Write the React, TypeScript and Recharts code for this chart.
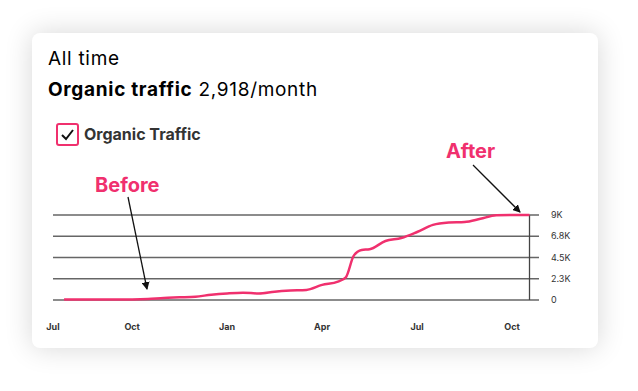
import { LineChart, XAxis, YAxis, Line, ReferenceLine } from "recharts";

// months counted from the first Jul (0 = Jul 1)
const monthPos = [0.85, 1.5, 2, 2.5, 3, 3.5, 4, 4.5, 5, 5.5, 6, 6.5, 7, 7.5, 8, 8.5, 9, 9.5, 9.75, 10, 10.25, 10.5, 11, 11.5, 12, 12.5, 13, 13.5, 14, 14.5, 15, 15.55];
const traffic = [40, 40, 40, 40, 50, 100, 220, 280, 350, 560, 700, 780, 680, 880, 1000, 1070, 1600, 1950, 2400, 4700, 5300, 5370, 6250, 6560, 7200, 7950, 8200, 8260, 8600, 8970, 9000, 9000];
const xTicks = [0.5, 3, 6, 9, 12, 15];
const xTickLabels = ["Jul", "Oct", "Jan", "Apr", "Jul", "Oct"];
const yTicks = [0, 2250, 4500, 6750, 9000];

const PINK = "#f0306e";
const FONT = "Inter, 'Noto Sans', sans-serif";

const data = monthPos.map((m, i) => ({ m, v: traffic[i] }));

const fmtY = (v: number) => (v === 0 ? "0" : (v / 1000).toFixed(1).replace(/\.0$/, "") + "K");
const fmtX = (v: number) => xTickLabels[xTicks.indexOf(v)] ?? "";

export default function App() {
  return (
    <div style={{ position: "absolute", left: 0, top: 0, width: 638, height: 391, background: "#fff", fontFamily: FONT }}>
      <div
        style={{
          position: "absolute",
          left: 32,
          top: 33,
          width: 566,
          height: 315,
          borderRadius: 8,
          background: "#fff",
          boxShadow: "0 0 28px rgba(0,0,0,0.16)",
        }}
      />
      <div style={{ position: "absolute", left: 48, top: 47, fontSize: 19, letterSpacing: 0.7, color: "#000" }}>
        All time
      </div>
      <div style={{ position: "absolute", left: 48, top: 78, fontSize: 19, letterSpacing: 0.7, color: "#000" }}>
        <b>Organic traffic</b> 2,918/month
      </div>
      <div
        style={{
          position: "absolute",
          left: 56,
          top: 123,
          width: 19,
          height: 19,
          border: `2px solid ${PINK}`,
          borderRadius: 3,
        }}
      >
        <svg width={19} height={19}>
          <path d="M4 10 L8 14 L15 5" fill="none" stroke="#111" strokeWidth={2} />
        </svg>
      </div>
      <div style={{ position: "absolute", left: 84, top: 124, fontSize: 16, fontWeight: 700, color: "#333" }}>
        Organic Traffic
      </div>

      <div style={{ position: "absolute", left: 0, top: 0 }}>
        <LineChart width={638} height={391} data={data} margin={{ top: 215, right: 59, left: 53, bottom: 61 }}>
          <XAxis
            dataKey="m"
            type="number"
            domain={[0.5, 15.85]}
            ticks={xTicks}
            interval={0}
            tickFormatter={fmtX}
            axisLine={false}
            tickLine={false}
            tickMargin={18}
            height={30}
            tick={{ fontSize: 9, fontWeight: 700, fill: "#333", fontFamily: FONT }}
          />
          <YAxis
            orientation="right"
            domain={[0, 9000]}
            ticks={yTicks}
            interval={0}
            tickFormatter={fmtY}
            axisLine={false}
            tickLine={false}
            tickMargin={6}
            width={40}
            tick={{ fontSize: 9, fill: "#333", fontFamily: FONT }}
          />
          {yTicks.map((t) => (
            <ReferenceLine key={t} y={t} stroke="#666" strokeWidth={1.3} />
          ))}
          <ReferenceLine x={15.55} stroke="#444" strokeWidth={1.3} />
          <Line
            type="monotone"
            dataKey="v"
            stroke={PINK}
            strokeWidth={2.5}
            dot={false}
            isAnimationActive={false}
          />
        </LineChart>
      </div>

      <svg width={638} height={391} style={{ position: "absolute", left: 0, top: 0, pointerEvents: "none" }}>
        <defs>
          <marker id="ah" markerWidth={8} markerHeight={8} refX={7} refY={4} orient="auto" markerUnits="userSpaceOnUse">
            <path d="M0,0 L8,4 L0,8 z" fill="#111" />
          </marker>
        </defs>
        <text x={95} y={192} fontSize={20} fontWeight={700} fill={PINK} fontFamily={FONT}>
          Before
        </text>
        <text x={446} y={158} fontSize={20} fontWeight={700} fill={PINK} fontFamily={FONT}>
          After
        </text>
        <line x1={128} y1={197} x2={147} y2={289} stroke="#111" strokeWidth={1.3} markerEnd="url(#ah)" />
        <line x1={473} y1={165} x2={520} y2={212} stroke="#111" strokeWidth={1.3} markerEnd="url(#ah)" />
      </svg>
    </div>
  );
}
